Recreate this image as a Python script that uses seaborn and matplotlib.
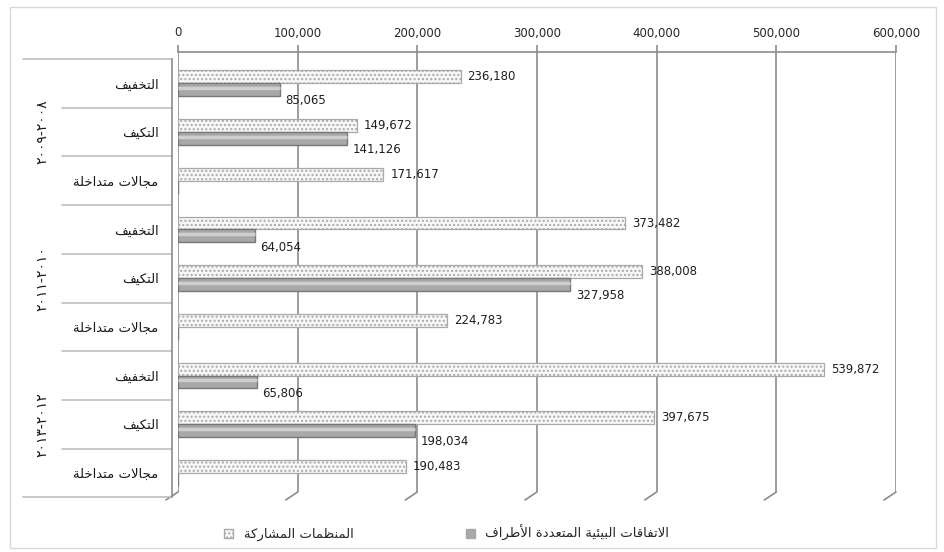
import matplotlib
matplotlib.use('Agg')
import matplotlib.pyplot as plt
import matplotlib.transforms as mtransforms
from matplotlib.patches import Patch, Rectangle
from matplotlib.lines import Line2D
import seaborn as sns
import pandas as pd

# data
periods = ['٢٠٠٨-٢٠٠٩', '٢٠١٠-٢٠١١', '٢٠١٢-٢٠١٣']
categories = ['التخفيف', 'التكيف', 'مجالات متداخلة']
series_orgs = 'المنظمات المشاركة'
series_meas = 'الاتفاقات البيئية المتعددة الأطراف'
orgs_values = [236180, 149672, 171617, 373482, 388008, 224783, 539872, 397675, 190483]
meas_values = [85065, 141126, 0, 64054, 327958, 0, 65806, 198034, 0]
x_ticks = [0, 100000, 200000, 300000, 400000, 500000, 600000]

# --- minimal Arabic shaping (matplotlib has no bidi / joining) ---
FORMS = {
    'ا': (0xFE8D, 0xFE8E, None, None), 'أ': (0xFE83, 0xFE84, None, None),
    'د': (0xFEA9, 0xFEAA, None, None), 'ر': (0xFEAD, 0xFEAE, None, None),
    'ة': (0xFE93, 0xFE94, None, None),
    'ب': (0xFE8F, 0xFE90, 0xFE91, 0xFE92), 'ت': (0xFE95, 0xFE96, 0xFE97, 0xFE98),
    'ج': (0xFE9D, 0xFE9E, 0xFE9F, 0xFEA0), 'خ': (0xFEA5, 0xFEA6, 0xFEA7, 0xFEA8),
    'ش': (0xFEB5, 0xFEB6, 0xFEB7, 0xFEB8), 'ط': (0xFEC1, 0xFEC2, 0xFEC3, 0xFEC4),
    'ظ': (0xFEC5, 0xFEC6, 0xFEC7, 0xFEC8), 'ع': (0xFEC9, 0xFECA, 0xFECB, 0xFECC),
    'ف': (0xFED1, 0xFED2, 0xFED3, 0xFED4), 'ق': (0xFED5, 0xFED6, 0xFED7, 0xFED8),
    'ك': (0xFED9, 0xFEDA, 0xFEDB, 0xFEDC), 'ل': (0xFEDD, 0xFEDE, 0xFEDF, 0xFEE0),
    'م': (0xFEE1, 0xFEE2, 0xFEE3, 0xFEE4), 'ن': (0xFEE5, 0xFEE6, 0xFEE7, 0xFEE8),
    'ي': (0xFEF1, 0xFEF2, 0xFEF3, 0xFEF4), 'ئ': (0xFE89, 0xFE8A, 0xFE8B, 0xFE8C),
}
LAM_ALEF = {'ا': (0xFEFB, 0xFEFC), 'أ': (0xFEF7, 0xFEF8)}


def dual(c):
    return c in FORMS and FORMS[c][2] is not None


def shape(text):
    out = []
    i = 0
    while i < len(text):
        c = text[i]
        prev_joins = i > 0 and dual(text[i - 1])
        if c == 'ل' and i + 1 < len(text) and text[i + 1] in LAM_ALEF:
            iso, fin = LAM_ALEF[text[i + 1]]
            out.append(chr(fin if prev_joins else iso))
            i += 2
            continue
        if c in FORMS:
            iso, fin, ini, med = FORMS[c]
            next_joins = dual(c) and i + 1 < len(text) and text[i + 1] in FORMS
            if prev_joins and next_joins:
                out.append(chr(med))
            elif prev_joins:
                out.append(chr(fin))
            elif next_joins:
                out.append(chr(ini))
            else:
                out.append(chr(iso))
        else:
            out.append(c)
        i += 1
    return ''.join(reversed(out))


def period_visual(p):
    return '-'.join(reversed(p.split('-')))


W, H = 944, 552
sns.set_theme(style='white')
plt.rcParams['font.family'] = ['DejaVu Sans']
plt.rcParams['hatch.linewidth'] = 1.0

rows = [f'{p}|{c}' for p in periods for c in categories]
df = pd.DataFrame({
    'row': rows * 2,
    'series': [series_orgs] * len(rows) + [series_meas] * len(rows),
    'value': orgs_values + meas_values,
})

fig = plt.figure(figsize=(W / 100, H / 100), dpi=100)
ax = fig.add_axes([178 / W, 1 - 492 / H, (896 - 178) / W, (492 - 52) / H])

sns.barplot(data=df, x='value', y='row', hue='series', order=rows,
            hue_order=[series_orgs, series_meas], orient='h', width=0.53,
            palette=['#f7f7f7', '#a8a8a8'], saturation=1, legend=False, ax=ax)

orgs_bars, meas_bars = ax.containers[0], ax.containers[1]
for b in orgs_bars:
    b.set_hatch('....')
    b.set_edgecolor('#a9a9a9')
    b.set_linewidth(0.9)
for b in meas_bars:
    b.set_edgecolor('#777777')
    b.set_linewidth(1.0)

# cylinder-like highlight on the solid bars
for b, v in zip(meas_bars, meas_values):
    yc = b.get_y() + b.get_height() * 0.38
    ax.hlines(yc, 0, v, color='#cfcfcf', lw=2.5, zorder=b.get_zorder() + 0.1)

ax.set_xlim(0, 600000)
ax.set_ylim(8.391, -0.644)

ax.xaxis.tick_top()
ax.set_xticks(x_ticks)
ax.set_xticklabels([f'{v:,}' for v in x_ticks], fontsize=8.5, color='#262626')
ax.tick_params(axis='x', length=5, width=1.2, color='#8c8c8c', pad=4)
ax.set_yticks(range(len(rows)))
ax.set_yticklabels([shape(c) for p in periods for c in categories], fontsize=9.5, color='#1a1a1a')
ax.tick_params(axis='y', length=0, pad=14)
ax.set_xlabel('')
ax.set_ylabel('')
ax.grid(axis='x', color='#8c8c8c', lw=1.2)
ax.grid(axis='y', visible=False)
ax.set_axisbelow(True)
for s in ['bottom', 'left', 'right']:
    ax.spines[s].set_visible(False)
ax.spines['top'].set_color('#8c8c8c')
ax.spines['top'].set_linewidth(1.2)

# data labels
for b, v in zip(orgs_bars, orgs_values):
    ax.annotate(f'{v:,}', (b.get_width(), b.get_y() + b.get_height() / 2),
                xytext=(5, 0), textcoords='offset points', ha='left', va='center',
                fontsize=8.5, color='#1f1f1f')
for b, v in zip(meas_bars, meas_values):
    if v == 0:
        continue
    ax.annotate(f'{v:,}', (b.get_width(), b.get_y() + b.get_height() / 2),
                xytext=(4, -8), textcoords='offset points', ha='left', va='center',
                fontsize=8.5, color='#1f1f1f')

# 3D floor / wall hints
px_per_unit = (896 - 178) / 600000
bt = mtransforms.blended_transform_factory(ax.transData, ax.transAxes)
for v in x_ticks:
    ax.plot([v, v - 12 / px_per_unit], [0, -8 / 440], transform=bt,
            color='#8c8c8c', lw=1.2, clip_on=False)

# category axis: separators and period labels
ft = mtransforms.blended_transform_factory(fig.transFigure, ax.transData)
for k in range(len(rows) + 1):
    x0 = 23 if k in (0, len(rows)) else 62
    fig.add_artist(Line2D([x0 / W, 172 / W], [k - 0.5, k - 0.5], transform=ft,
                          color='#bfbfbf', lw=1.2))
fig.add_artist(Line2D([172 / W, 172 / W], [-0.5, len(rows) - 0.5], transform=ft,
                      color='#8c8c8c', lw=1.2))
for g, p in enumerate(periods):
    fig.text(42 / W, g * len(categories) + 1, period_visual(p), transform=ft,
             rotation=90, ha='center', va='center', fontsize=10, color='#1a1a1a')

# legend
handles = [Patch(facecolor='#f7f7f7', edgecolor='#a9a9a9', hatch='....'),
           Patch(facecolor='#a8a8a8', edgecolor='#a8a8a8')]
fig.legend(handles, [shape(series_orgs), shape(series_meas)], loc='center left',
           bbox_to_anchor=(212 / W, 1 - 533 / H), ncol=2, frameon=False,
           handlelength=0.7, handleheight=0.7, handletextpad=0.8,
           columnspacing=8.5, fontsize=9.5)

fig.add_artist(Rectangle((10 / W, 1 - 548 / H), 926 / W, 541 / H,
                         transform=fig.transFigure, fill=False,
                         edgecolor='#d9d9d9', lw=1))

fig.savefig('out.png', dpi=100)
